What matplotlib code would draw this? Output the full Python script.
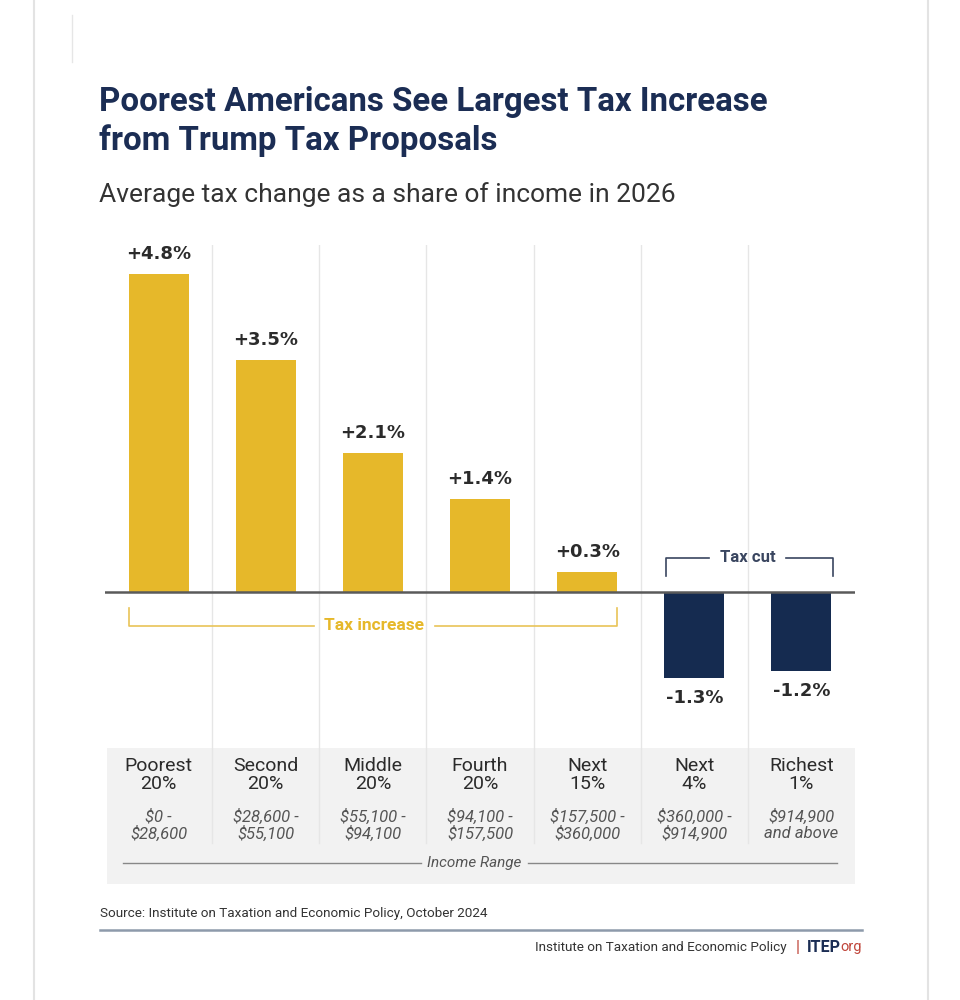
import matplotlib.pyplot as plt
import matplotlib.transforms as mtransforms
from matplotlib.lines import Line2D

# data
groups = ["Poorest\n20%", "Second\n20%", "Middle\n20%", "Fourth\n20%",
          "Next\n15%", "Next\n4%", "Richest\n1%"]
ranges = ["$0 -\n$28,600", "$28,600 -\n$55,100", "$55,100 -\n$94,100",
          "$94,100 -\n$157,500", "$157,500 -\n$360,000", "$360,000 -\n$914,900",
          "$914,900\nand above"]
tax_change = [4.8, 3.5, 2.1, 1.4, 0.3, -1.3, -1.2]

# colours
yellow = "#e6b82a"
navy = "#152b50"
title_navy = "#1b2d54"
grid_c = "#e6e6e6"
text_dark = "#2b2b2b"

plt.rcParams['font.family'] = ['Roboto', 'DejaVu Sans']

W, H = 960, 1000
fig = plt.figure(figsize=(W / 100, H / 100), dpi=100)
fig.patch.set_facecolor("white")


def fy(py):
    # pixel row -> figure fraction
    return 1 - py / H


def fx(px):
    return px / W


# card outline lines
fig.add_artist(Line2D([fx(34), fx(34)], [0, 1], color="#e3e3e3", lw=1.5))
fig.add_artist(Line2D([fx(928), fx(928)], [0, 1], color="#e3e3e3", lw=1.5))
fig.add_artist(Line2D([fx(72), fx(72)], [fy(15), fy(62)], color="#e6e6e6", lw=1))

# title and subtitle
fig.text(fx(99), fy(102), "Poorest Americans See Largest Tax Increase",
         fontsize=23.8, fontweight="bold", color=title_navy, va="center")
fig.text(fx(99), fy(141), "from Trump Tax Proposals",
         fontsize=23.8, fontweight="bold", color=title_navy, va="center")
fig.text(fx(99), fy(195), "Average tax change as a share of income in 2026",
         fontsize=19, color="#333333", va="center")

# chart axes: x from -0.5..6.5 maps to 105..855 px, y 0 at 592 px, 66.2 px per %
px_per = 66.2
top_px, bot_px = 245, 884
ax = fig.add_axes([fx(105), fy(bot_px), fx(855) - fx(105), (bot_px - top_px) / H])
ax.set_xlim(-0.5, 6.5)
ax.set_ylim((592 - bot_px) / px_per, (592 - top_px) / px_per)
ax.axis("off")

bt = mtransforms.blended_transform_factory(ax.transData, fig.transFigure)

xs = list(range(len(groups)))

# gray band for category labels
ax.axhspan((592 - bot_px) / px_per, (592 - 748) / px_per, xmin=0.003, xmax=1,
           color="#f2f2f2", zorder=0, lw=0)

# vertical grid lines
for b in [i + 0.5 for i in range(len(groups) - 1)]:
    ax.plot([b, b], [fy(245), fy(843)], transform=bt, color=grid_c, lw=1, zorder=1)

colors = [yellow if v > 0 else navy for v in tax_change]
ax.bar(xs, tax_change, width=0.56, color=colors, zorder=3)
ax.axhline(0, color="#5a5a5a", lw=1.8, zorder=4)

for x, v in zip(xs, tax_change):
    lab = f"+{v:.1f}%" if v > 0 else f"-{abs(v):.1f}%"
    off = 0.3 if v > 0 else -0.3
    ax.text(x, v + off, lab, ha="center", va="center", fontsize=13,
            fontweight="bold", color=text_dark, zorder=5, family="DejaVu Sans")

# category labels and income ranges
for x, g, r in zip(xs, groups, ranges):
    ax.text(x, fy(775), g, transform=bt, ha="center", va="center", fontsize=14,
            color=text_dark, linespacing=0.95)
    ax.text(x, fy(825), r, transform=bt, ha="center", va="center", fontsize=12,
            style="italic", color="#555555", linespacing=1.1)

# income range line
ax.plot([-0.33, 2.45], [fy(863), fy(863)], transform=bt, color="#888888", lw=1)
ax.plot([3.45, 6.33], [fy(863), fy(863)], transform=bt, color="#888888", lw=1)
ax.text(2.95, fy(863), "Income Range", transform=bt, ha="center", va="center",
        fontsize=11, style="italic", color="#555555")

# tax increase bracket
yb = fy(626)
ax.plot([-0.28, -0.28, 1.45], [fy(608), yb, yb], transform=bt, color="#e9c458", lw=1.2)
ax.plot([2.58, 4.28, 4.28], [yb, yb, fy(608)], transform=bt, color="#e9c458", lw=1.2)
ax.text(2.01, yb, "Tax increase", transform=bt, ha="center", va="center",
        fontsize=12.5, fontweight="bold", color="#e6b82a")

# tax cut bracket
yc = fy(558)
ax.plot([4.74, 4.74, 5.14], [fy(576), yc, yc], transform=bt, color="#3a4660", lw=1.2)
ax.plot([5.86, 6.29, 6.29], [yc, yc, fy(576)], transform=bt, color="#3a4660", lw=1.2)
ax.text(5.5, yc, "Tax cut", transform=bt, ha="center", va="center",
        fontsize=12, fontweight="bold", color="#3a4660")

# footer
fig.text(fx(100), fy(914), "Source: Institute on Taxation and Economic Policy, October 2024",
         fontsize=9.7, color="#333333", va="center")
fig.add_artist(Line2D([fx(100), fx(862)], [fy(930), fy(930)], color="#8d9aab", lw=1.8))
t_org = fig.text(fx(862), fy(947), "org", fontsize=10.5, color="#c0463b",
                 va="center", ha="right")
fig.canvas.draw()
r = fig.canvas.get_renderer()
bb = t_org.get_window_extent(r)
x_itep = bb.x0 / W
t_itep = fig.text(x_itep, fy(947), "ITEP", fontsize=11.5, fontweight="bold",
                  color=title_navy, va="center", ha="right")
bb = t_itep.get_window_extent(r)
fig.text(bb.x0 / W - fx(7), fy(947), "|", fontsize=12, color="#c0463b",
         va="center", ha="right")
fig.text(bb.x0 / W - fx(20), fy(947), "Institute on Taxation and Economic Policy",
         fontsize=9.7, color="#333333", va="center", ha="right")

fig.savefig("out.png", dpi=100, facecolor="white")
